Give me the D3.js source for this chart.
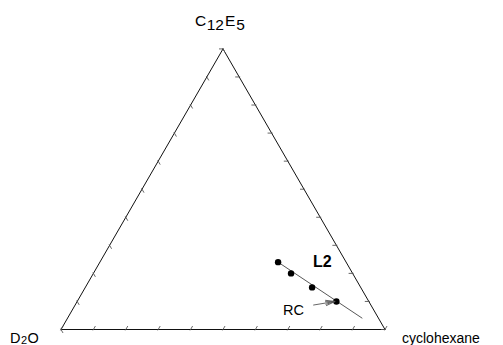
<!DOCTYPE html>
<html>
<head>
<meta charset="utf-8">
<script src="https://cdn.jsdelivr.net/npm/d3@7"></script>
<style>
html,body{margin:0;padding:0;background:#fff;}
svg{display:block;font-family:"Liberation Sans",Arial,sans-serif;}
</style>
</head>
<body>
<svg id="chart" width="503" height="345"></svg>
<script>
// Ternary components (left, right, top)
const components = ["D2O", "cyclohexane", "C12E5"];
const tickFractions = [0,0.1,0.2,0.3,0.4,0.5,0.6,0.7,0.8,0.9,1];
// Sample compositions (mass fractions): water, oil, surfactant
const sampleWater = [0.21, 0.19, 0.15, 0.10];
const sampleOil   = [0.55, 0.61, 0.70, 0.80];
const sampleSurf  = [0.24, 0.20, 0.15, 0.10];
// Dilution line (oil, surfactant fractions at the two ends)
const lineOil  = [0.55, 0.91];
const lineSurf = [0.24, 0.04];
// Arrow pointing to RC sample (oil, surfactant)
const arrowOil  = [0.735, 0.796];
const arrowSurf = [0.087, 0.100];
// Region labels
const regionLabels = ["L2", "RC"];
const regionOil  = [0.666, 0.659];
const regionSurf = [0.223, 0.052];

const svg = d3.select("#chart");
const xS = d3.scaleLinear().domain([0,1]).range([61,385]);
const side = 324;
const yS = d3.scaleLinear().domain([0,1]).range([329.5, 329.5 - side*Math.sqrt(3)/2]);
const proj = (c, s) => [xS(c + s/2), yS(s)];

const vA = proj(0,0), vB = proj(1,0), vC = proj(0,1);
// triangle
svg.append("path")
  .attr("d", d3.line()([vA,vB,vC,vA]))
  .attr("fill","none").attr("stroke","#111").attr("stroke-width",1);

// ticks
const tl = 4;
const ticksG = svg.append("g").attr("stroke","#555").attr("stroke-width",0.9);
const dirs = {
  bottom: [Math.cos(Math.PI/3), -Math.sin(Math.PI/3)],
  right: [-1, 0],
  left: [Math.cos(Math.PI/3), Math.sin(Math.PI/3)]
};
tickFractions.forEach(f => {
  const pb = proj(f, 0);
  const pr = proj(1-f, f);
  const pl = proj(0, f);
  [[pb,dirs.bottom],[pr,dirs.right],[pl,dirs.left]].forEach(([p,d]) => {
    ticksG.append("line")
      .attr("x1", p[0] - d[0]*1).attr("y1", p[1] - d[1]*1)
      .attr("x2", p[0] + d[0]*tl).attr("y2", p[1] + d[1]*tl);
  });
});

// dilution line
svg.append("path")
  .attr("d", d3.line()(lineOil.map((c,i)=>proj(c, lineSurf[i]))))
  .attr("fill","none").attr("stroke","#444").attr("stroke-width",0.9);

// points
svg.selectAll("circle.pt").data(sampleOil).join("circle")
  .attr("class","pt")
  .attr("cx",(c,i)=>proj(c, sampleSurf[i])[0])
  .attr("cy",(c,i)=>proj(c, sampleSurf[i])[1])
  .attr("r",3.2).attr("fill","#000");

// arrow
const a0 = proj(arrowOil[0], arrowSurf[0]), a1 = proj(arrowOil[1], arrowSurf[1]);
const ang = Math.atan2(a1[1]-a0[1], a1[0]-a0[0]);
const hl = 10, ha = 0.28;
const arrowG = svg.append("g").attr("stroke","#555").attr("stroke-width",0.9).attr("fill","none");
arrowG.append("line").attr("x1",a0[0]).attr("y1",a0[1]).attr("x2",a1[0]).attr("y2",a1[1]);
[ha, -ha, ha*0.5, -ha*0.5].forEach(da => {
  arrowG.append("line")
    .attr("x1", a1[0]).attr("y1", a1[1])
    .attr("x2", a1[0] - hl*Math.cos(ang+da)).attr("y2", a1[1] - hl*Math.sin(ang+da));
});

// region labels
const L2p = proj(regionOil[0], regionSurf[0]);
svg.append("text").attr("x", L2p[0]).attr("y", L2p[1])
  .attr("font-size",16).attr("font-weight","bold").attr("fill","#000").text(regionLabels[0]);
const RCp = proj(regionOil[1], regionSurf[1]);
svg.append("text").attr("x", RCp[0]).attr("y", RCp[1])
  .attr("font-size",14.5).attr("fill","#000").text(regionLabels[1]);

// vertex labels
const topLabel = svg.append("text").attr("x", vC[0]-28).attr("y", 25.5).attr("font-size",15.5).attr("fill","#000");
topLabel.append("tspan").text("C");
topLabel.append("tspan").attr("dy",4.5).attr("dx",0.5).text("12");
topLabel.append("tspan").attr("dy",-4.5).attr("dx",1).text("E");
topLabel.append("tspan").attr("dy",4.5).attr("dx",1).text("5");

const leftLabel = svg.append("text").attr("x", 10).attr("y", 343).attr("font-size",14.5).attr("fill","#000");
leftLabel.append("tspan").text("D");
leftLabel.append("tspan").attr("font-size",11).attr("dy",0.5).attr("dx",0.5).text("2");
leftLabel.append("tspan").attr("dy",-0.5).attr("dx",0.5).text("O");

svg.append("text").attr("x", vB[0]+17).attr("y", 342.5).attr("font-size",14).attr("fill","#000").text(components[1]);
</script>
</body>
</html>
